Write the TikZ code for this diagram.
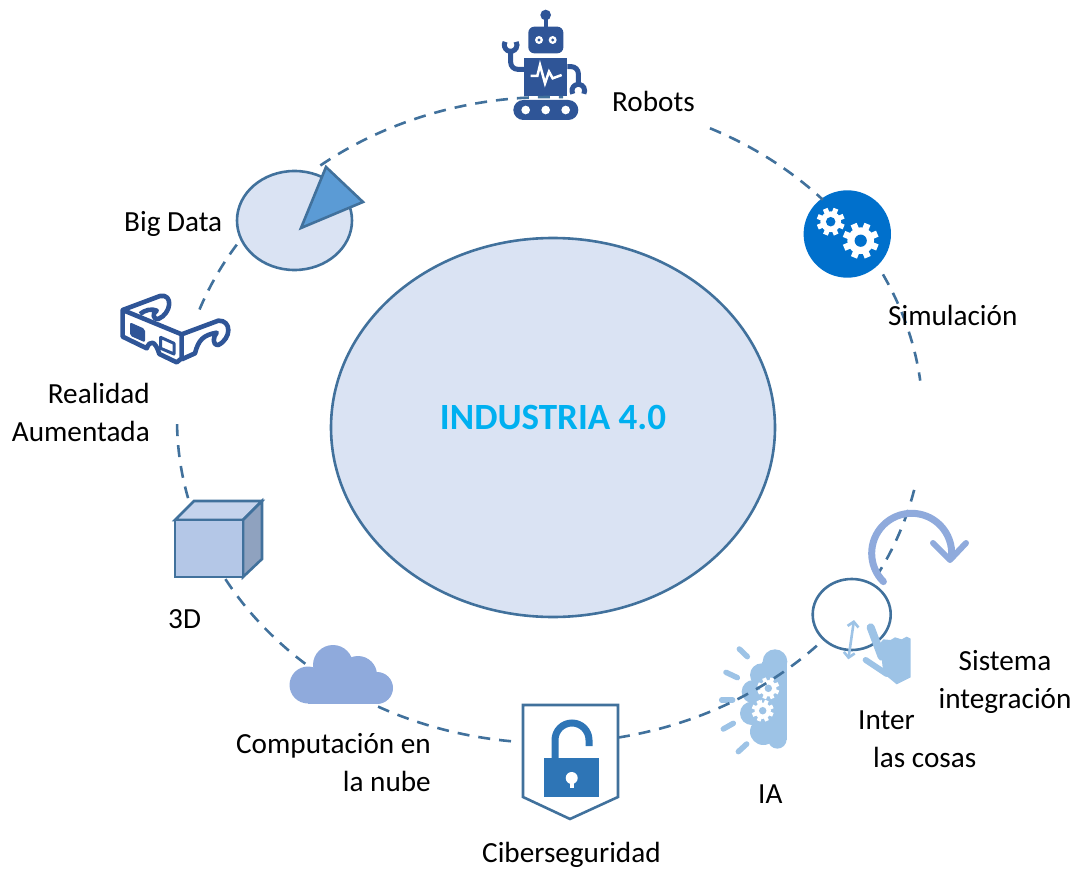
\documentclass[tikz,border=0pt]{standalone}
\usepackage{fontspec}
\setmainfont{Carlito}
\usepackage{xcolor}
\usetikzlibrary{shapes.geometric, arrows.meta}

\definecolor{edgeblue}{HTML}{41719C}
\definecolor{paleblue}{HTML}{DAE3F3}
\definecolor{navyblue}{HTML}{2F5597}
\definecolor{skyblue}{HTML}{9DC3E6}
\definecolor{cloudblue}{HTML}{8FAADC}
\definecolor{lockblue}{HTML}{2E75B6}
\definecolor{gearblue}{HTML}{0070CC}
\definecolor{titleblue}{HTML}{00B0F0}
\definecolor{pieblue}{HTML}{5B9BD5}
\definecolor{cubefront}{HTML}{B4C7E7}
\definecolor{cubetop}{HTML}{C5D3EC}
\definecolor{cubeside}{HTML}{8FA2BF}

% white wheel with a coloured hole: x, y, radius, hole colour
\newcommand{\gearicon}[4]{%
  \fill[white] (#1,#2) circle (0.74*#3);
  \foreach \a in {0,45,...,315}
    \draw[white, line width=0.36*#3] (#1,#2) -- ++(\a+22:#3);
  \fill[#4] (#1,#2) circle (0.34*#3);
}

\begin{document}
\begin{tikzpicture}[x=1pt, y=-1pt,
    label/.style={font=\fontsize{29.2}{38}\selectfont, inner sep=0pt, text=black},
    ringline/.style={draw=edgeblue, line width=2.6pt, dash pattern=on 12pt off 9pt},
    disc/.style={draw=edgeblue, line width=2.6pt, ellipse, inner sep=0pt}]
    \useasboundingbox (0,0) rectangle (1077,869);

    % Centre
    \node (core) [disc, fill=paleblue, minimum width=444pt, minimum height=379pt] at (553,427.5) {};
    \node (title) [inner sep=0pt, text=titleblue, font=\fontsize{37}{42}\selectfont\bfseries] at (553,418) {INDUSTRIA 4.0};

    % Robot
    \begin{scope}[shift={(480,0)}, scale=1/3, navyblue]
        \fill (197,45) circle (16);
        \draw[line width=4pt] (197,45) -- (197,90);
        \fill[rounded corners=6pt] (145,80) rectangle (250,160);
        \foreach \ex in {177,218} {
            \fill[white] (\ex,120) circle (12);
            \fill (\ex,120) circle (5);
        }
        \fill (132,175) rectangle (262,288);
        \draw[white, line width=2.5pt] (152,228) -- (172,228) -- (180,195) -- (195,250) -- (207,215) -- (218,235) -- (245,225);
        \draw[line width=5pt, rounded corners=7pt] (132,208) -- (92,208) -- (92,155);
        \draw[line width=5pt] (75.5,125.5) arc[start angle=210, end angle=-30, radius=19];
        \draw[line width=5pt, rounded corners=7pt] (262,200) -- (295,200) -- (295,255);
        \draw[line width=5pt] (278.5,281.5) arc[start angle=150, end angle=390, radius=19];
        \fill[rounded corners=10pt] (100,300) rectangle (295,360);
        \foreach \wx in {137,197,257}
            \fill[white] (\wx,330) circle (13);
    \end{scope}

    % Simulation
    \node (simdisc) [circle, fill=gearblue, minimum size=87.4pt, inner sep=0pt] at (847.3,234) {};
    \gearicon{830.7}{221.7}{14}{gearblue}
    \gearicon{860.7}{240.7}{18}{gearblue}

    % Big data
    \node (bigdata) [disc, fill=paleblue, minimum width=115pt, minimum height=99pt] at (294.5,220.5) {};
    \draw[edgeblue, fill=pieblue, line width=2.6pt, line join=miter] (301,228) -- (326,167) -- (363,202) -- cycle;

    % Glasses
    \begin{scope}[shift={(100,150)}, scale=1/3, navyblue, line width=4.6pt, line join=round]
        \draw (68,480) -- (245,553) -- (245,625) -- (230,637) -- (178,612) .. controls (165,570) and (150,570) .. (140,595) -- (68,560) -- cycle;
        \draw (68,480) -- (180,438) .. controls (220,430) and (215,490) .. (175,507) .. controls (160,510) and (155,490) .. (170,482) .. controls (155,475) and (135,480) .. (120,492);
        \draw (245,553) -- (355,512) .. controls (395,510) and (395,565) .. (355,585) .. controls (335,585) and (340,560) .. (350,548) .. controls (310,555) and (295,570) .. (285,610) -- (245,628);
        \fill[rounded corners=2pt] (90,517) -- (135,537) -- (135,577) -- (90,557) -- cycle;
        \draw[line width=3pt] (182,562) -- (222,580) -- (222,612) -- (182,595) -- cycle;
    \end{scope}

    % Cube
    \draw[edgeblue, fill=cubetop, line width=2.6pt] (175,520) -- (194,501) -- (262,501) -- (243,520) -- cycle;
    \draw[edgeblue, fill=cubeside, line width=2.6pt] (243,520) -- (262,501) -- (262,559) -- (243,577) -- cycle;
    \draw[edgeblue, fill=cubefront, line width=2.6pt] (175,520) rectangle (243,577);

    % Cloud
    \begin{scope}[cloudblue]
        \fill (308,685) circle (18.5);
        \fill (333,665) circle (20);
        \fill (358,675) circle (19);
        \fill (377,688) circle (16);
        \fill (308,680) rectangle (377,703.7);
    \end{scope}

    % Lock
    \draw[edgeblue, fill=white, line width=2.6pt] (523,705) -- (618,705) -- (618,797) -- (570,819) -- (523,797) -- cycle;
    \draw[lockblue, line width=7pt] (555,760) -- (555,740) arc[start angle=180, end angle=360, radius=17] -- (589,746);
    \fill[lockblue] (544,758) rectangle (599,797);
    \fill[white] (571.7,778) circle (6);
    \draw[white, line width=4pt] (571.7,778) -- (571.7,788);

    % Brain
    \begin{scope}[shift={(700,500)}, scale=1/3, skyblue]
        \fill (225,485) circle (37);
        \fill (185,525) circle (35);
        \fill (160,575) circle (35);
        \fill (155,640) circle (35);
        \fill (190,695) circle (40);
        \fill (232,718) circle (28);
        \fill (185,485) rectangle (262,720);
        \foreach \ax/\ay/\bx/\by in {118/447/142/470, 78/517/112/533, 65/600/98/600, 70/687/100/670, 115/755/140/732}
            \draw[line width=5.5pt, line cap=round] (\ax,\ay) -- (\bx,\by);
    \end{scope}
    \gearicon{768.3}{688.3}{11}{skyblue}
    \gearicon{762.7}{710.7}{11}{skyblue}

    % Ring
    \coordinate (ringc) at (550,420);
    \foreach \from/\to in {232/272, 295.4/317, 333.2/353, 372.5/389, 79.5/43, 96/117.5, 131/150.6, 166/180.8, 200/213.5}
        \draw[ringline] (ringc) ++(\from:373 and 323) arc[start angle=\from, end angle=\to, x radius=373, y radius=323];

    % Internet of things
    \node (things) [disc, minimum width=78pt, minimum height=71pt] at (851.7,614.5) {};
    \begin{scope}[shift={(700,500)}, scale=1/3, skyblue]
        \draw[{Straight Barb[length=5pt,width=11pt]}-{Straight Barb[length=5pt,width=11pt]}, line width=2.6pt] (462,360) -- (445,478);
        \draw[line width=8pt, line cap=round] (512,382) -- (545,470);
        \draw[line width=6pt, line cap=round] (497,480) -- (560,522);
        \fill (540,430) -- (550,418) -- (572,420) -- (585,412) -- (605,418) -- (620,410) -- (632,416) -- (632,532) -- (590,553) -- (550,520) -- cycle;
    \end{scope}

    % Integration
    \draw[cloudblue, line width=7pt, line cap=round] (883.4,581.6) arc[start angle=135, end angle=365, radius=40];
    \draw[cloudblue, line width=6pt, line cap=round, line join=round] (933,543) -- (950,560) -- (966,543);

    % Labels
    \node (robots) [label, anchor=base west] at (612,112) {Robots};
    \node (simulacion) [label, anchor=base west] at (888,325) {Simulación};
    \node (bigdatatext) [label, anchor=base west] at (124,232) {Big Data};
    \node (realidad) [label, align=right, anchor=east] at (150,412) {Realidad\\Aumentada};
    \node (tresd) [label, anchor=base west] at (168,628) {3D};
    \node (nube) [label, align=right, anchor=east] at (431,763) {Computación en\\la nube};
    \node (ciber) [label, anchor=base west] at (482,862) {Ciberseguridad};
    \node (ia) [label, anchor=base west] at (758,803) {IA};
    \node (inter) [label, anchor=base west] at (858,729) {Inter};
    \node (cosas) [label, anchor=base west] at (873,767) {las cosas};
    \node (sistema) [label, align=center] at (1005,682) {Sistema\\integración};
\end{tikzpicture}
\end{document}
